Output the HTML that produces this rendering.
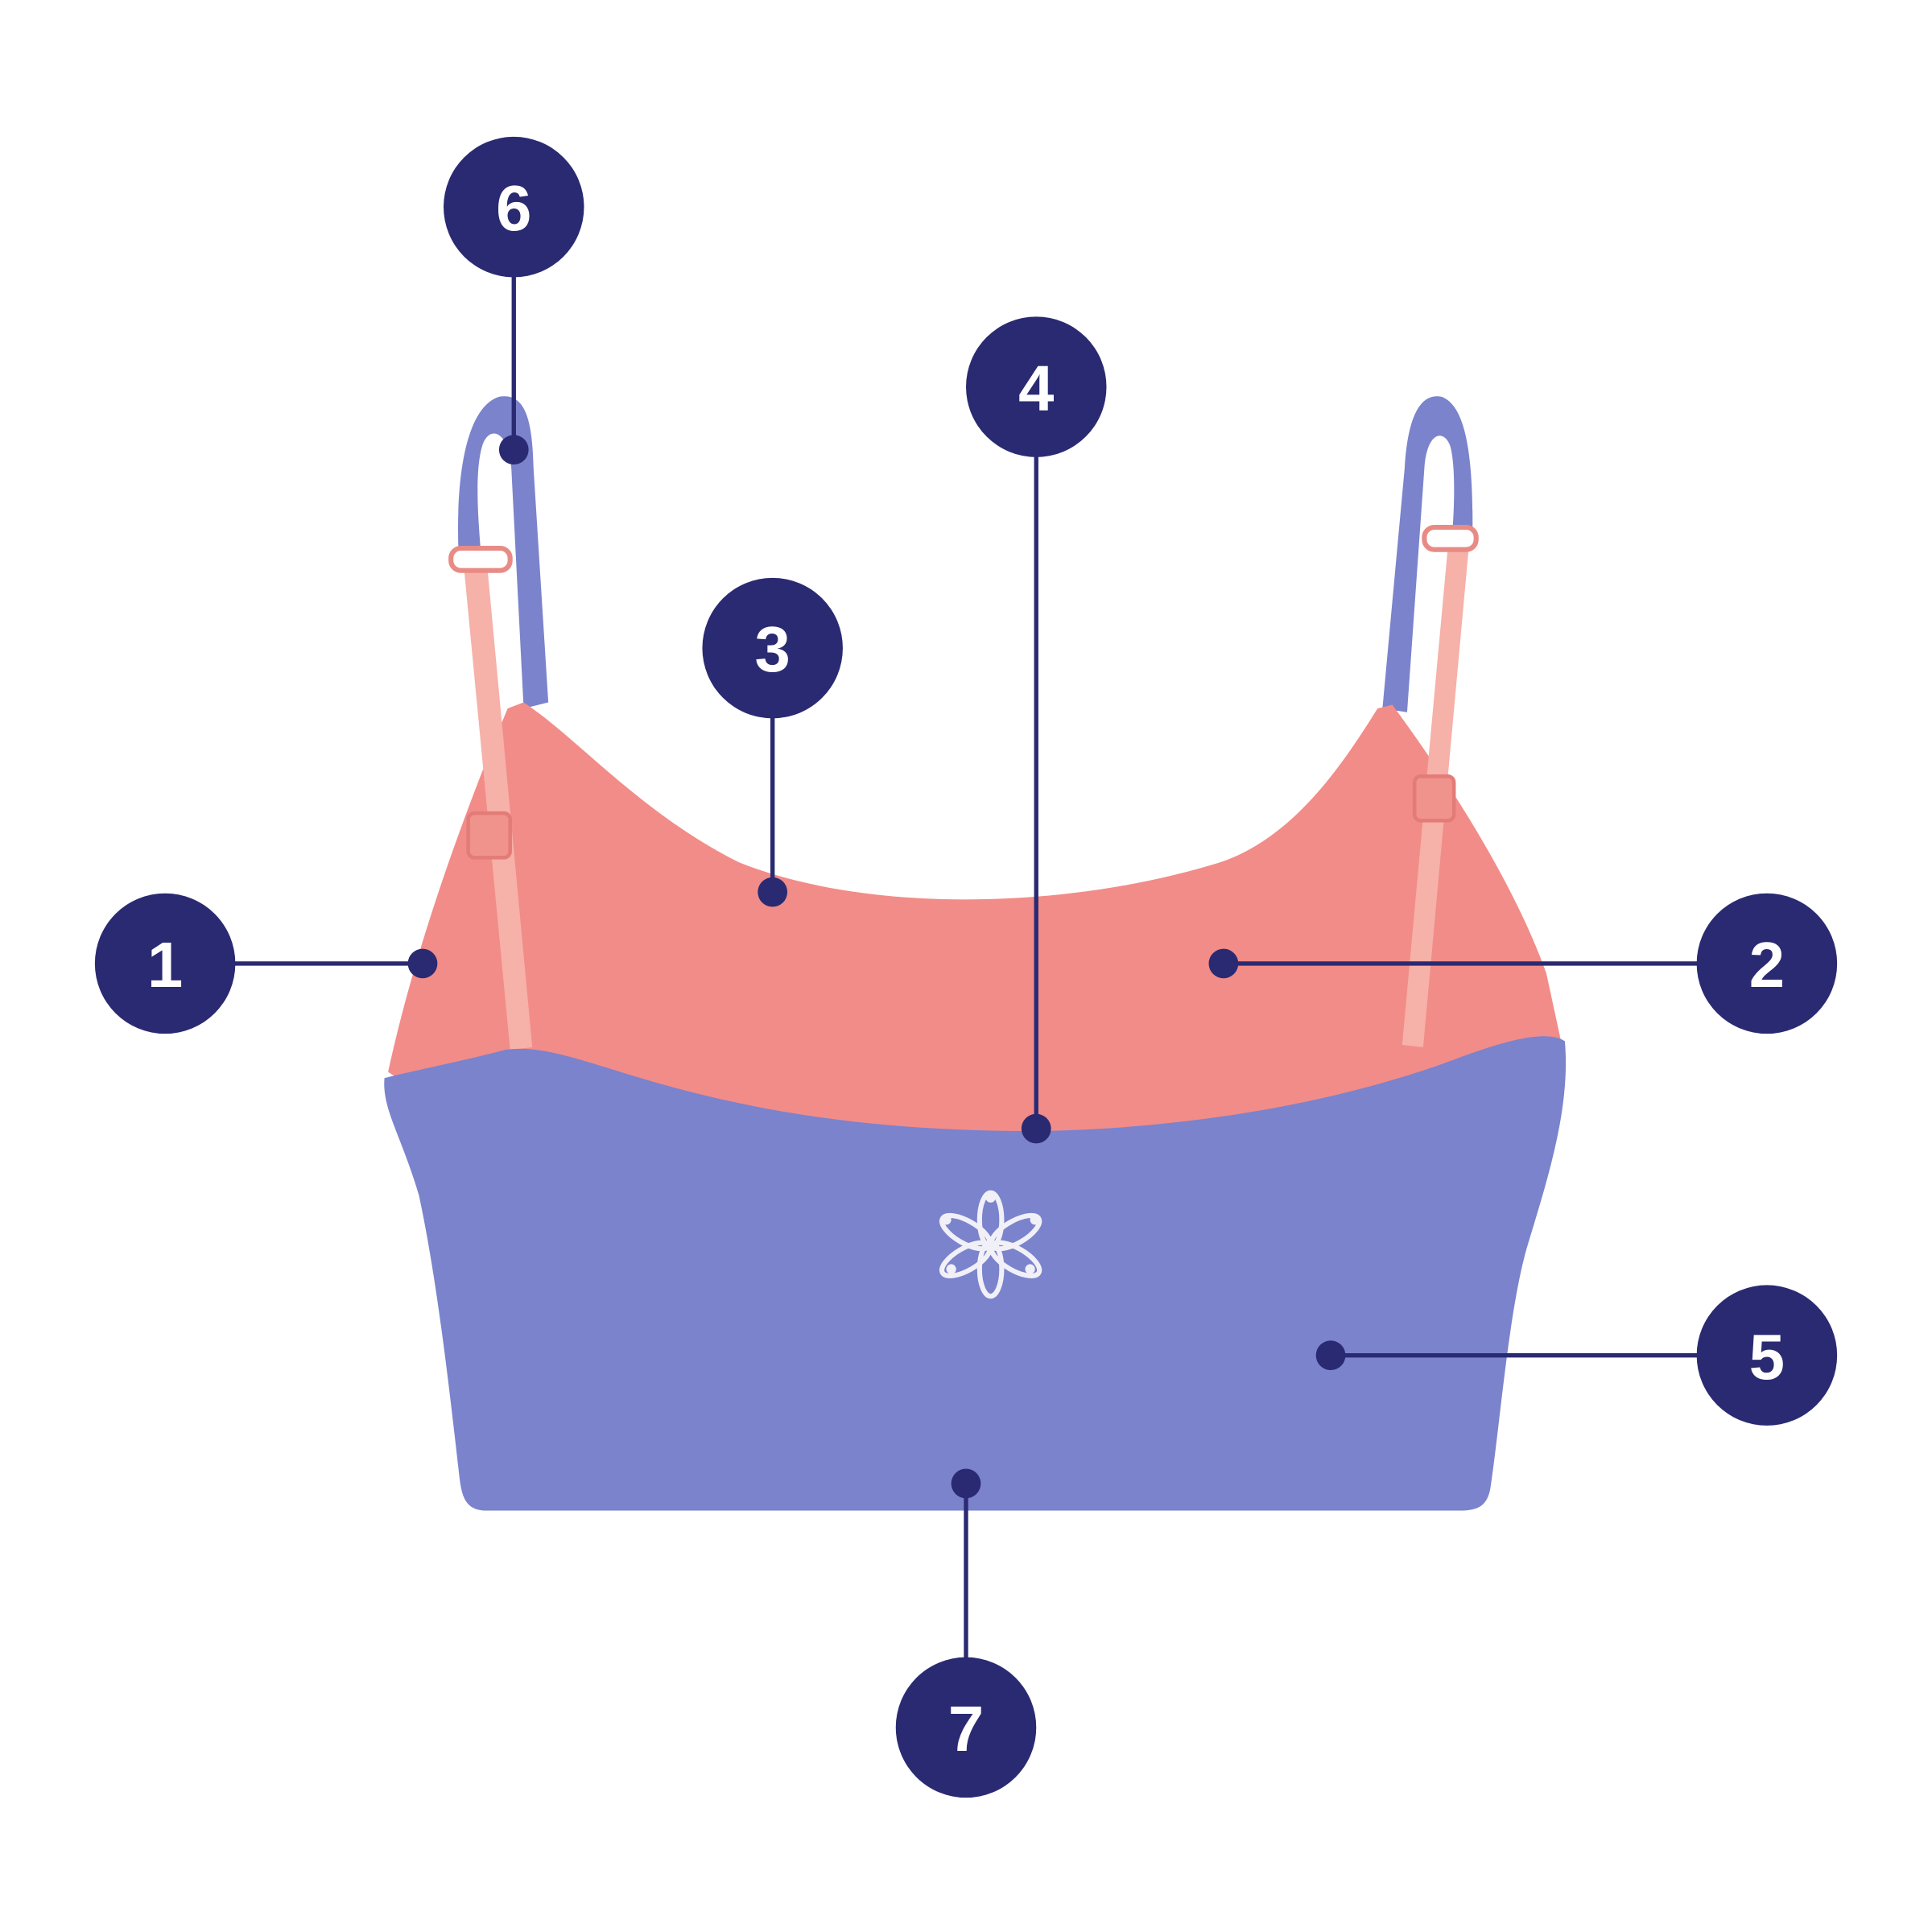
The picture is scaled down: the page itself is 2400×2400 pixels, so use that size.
<!DOCTYPE html>
<html><head><style>html,body{margin:0;padding:0;background:#fff}svg{display:block}</style></head>
<body>
<svg width="2400" height="2400" viewBox="0 0 1568 1568" xmlns="http://www.w3.org/2000/svg">
<path d="M372 445 C370 380 380 330 405 322 C428 318 432 345 433 380 L445 570 L425 575 L415 380 C413 350 398 345 392 360 C385 380 388 420 390 445 Z" fill="#7b83cc"/>
<path d="M1195 440 C1196 380 1192 330 1170 322 C1150 318 1142 345 1140 380 L1122 575 L1142 578 L1156 380 C1158 350 1172 348 1177 362 C1182 380 1180 420 1178 440 Z" fill="#7b83cc"/>
<path d="M315 870 C330 800 360 700 412 575 L425 570 C470 600 520 660 600 700 C700 740 860 740 990 700 C1050 680 1090 620 1118 575 L1130 572 C1180 640 1230 720 1255 790 L1268 850 L1262 880 L840 930 L330 880 Z" fill="#f28c88"/>
<path d="M376 455 L395 455 L432 850 L414 852 Z" fill="#f6b1a8"/>
<rect x="366" y="445" width="48" height="18" rx="8" fill="#fff" stroke="#e88b85" stroke-width="4"/>
<rect x="380" y="660" width="34" height="36" rx="5" fill="#f0938c" stroke="#e37c78" stroke-width="3"/>
<path d="M1175 445 L1192 445 L1155 850 L1138 848 Z" fill="#f6b1a8"/>
<rect x="1156" y="428" width="42" height="18" rx="8" fill="#fff" stroke="#e88b85" stroke-width="4"/>
<rect x="1148" y="630" width="32" height="36" rx="5" fill="#f0938c" stroke="#e37c78" stroke-width="3"/>
<path d="M312 875 C340 868 380 860 410 852 C440 848 470 860 520 875 C620 905 720 918 840 918 C980 916 1100 890 1180 860 C1220 845 1255 835 1270 845 C1275 900 1255 960 1240 1010 C1225 1060 1218 1150 1210 1205 C1208 1222 1200 1226 1185 1226 L395 1226 C378 1226 375 1215 373 1200 C365 1130 355 1040 340 970 C325 920 310 900 312 875 Z" fill="#7a83cc"/>
<g fill="none" stroke="#f1f0f7" stroke-width="4">
<ellipse cx="804" cy="990" rx="9" ry="22"/>
<ellipse cx="804" cy="1030" rx="9" ry="22"/>
<ellipse cx="784" cy="1000" rx="9" ry="22" transform="rotate(-60 784 1000)"/>
<ellipse cx="824" cy="1000" rx="9" ry="22" transform="rotate(60 824 1000)"/>
<ellipse cx="784" cy="1022" rx="9" ry="22" transform="rotate(60 784 1022)"/>
<ellipse cx="824" cy="1022" rx="9" ry="22" transform="rotate(-60 824 1022)"/>
</g>
<g fill="#f1f0f7"><circle cx="804" cy="972" r="4"/><circle cx="768" cy="990" r="4"/><circle cx="840" cy="990" r="4"/><circle cx="772" cy="1030" r="4"/><circle cx="836" cy="1030" r="4"/></g>
<g stroke="#2a2a72" stroke-width="3.5" fill="none">
<line x1="417" y1="168" x2="417" y2="365"/>
<line x1="841" y1="314" x2="841" y2="916"/>
<line x1="627" y1="526" x2="627" y2="724"/>
<line x1="134" y1="782" x2="343" y2="782"/>
<line x1="993" y1="782" x2="1434" y2="782"/>
<line x1="1080" y1="1100" x2="1434" y2="1100"/>
<line x1="784" y1="1204" x2="784" y2="1402"/>
</g>
<g fill="#2a2a72">
<circle cx="417" cy="365" r="12"/><circle cx="841" cy="916" r="12"/><circle cx="627" cy="724" r="12"/><circle cx="343" cy="782" r="12"/><circle cx="993" cy="782" r="12"/><circle cx="1080" cy="1100" r="12"/><circle cx="784" cy="1204" r="12"/>
<circle cx="417" cy="168" r="57"/><circle cx="841" cy="314" r="57"/><circle cx="627" cy="526" r="57"/><circle cx="134" cy="782" r="57"/><circle cx="1434" cy="782" r="57"/><circle cx="1434" cy="1100" r="57"/><circle cx="784" cy="1402" r="57"/>
</g>
<g fill="#fff" font-family="Liberation Sans, sans-serif" font-weight="bold" font-size="52" text-anchor="middle">
<text x="417" y="187">6</text><text x="841" y="333">4</text><text x="627" y="545">3</text><text x="134" y="801">1</text><text x="1434" y="801">2</text><text x="1434" y="1119">5</text><text x="784" y="1421">7</text>
</g>
</svg>
</body></html>
